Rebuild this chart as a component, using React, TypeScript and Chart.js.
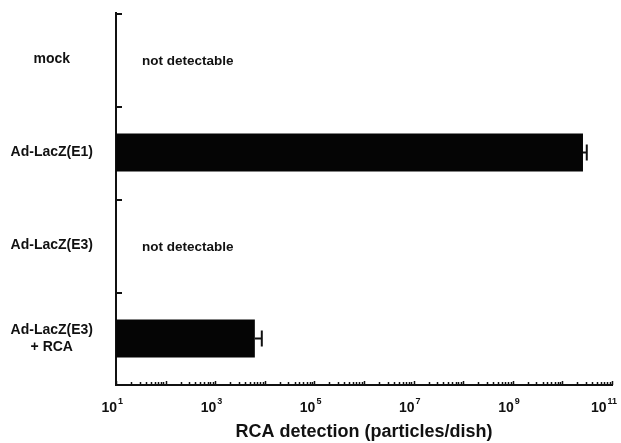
import React, { useEffect, useRef } from 'react';
import Chart from 'chart.js/auto';

const categories: (string | string[])[] = ['mock', 'Ad-LacZ(E1)', 'Ad-LacZ(E3)', ['Ad-LacZ(E3)', '+ RCA']];
const detection: (number | null)[] = [null, 2.6e10, null, 6.3e3];
const errorUpper: (number | null)[] = [null, 3.1e10, null, 8.7e3];
const xTickExponents: number[] = [1, 3, 5, 7, 9, 11];
const notDetectableText = 'not detectable';
const xTitle = 'RCA detection (particles/dish)';
const xMin = 1e1;
const xMax = 1e11;

const INK = '#111111';
const FONT = '"Liberation Sans", Arial, sans-serif';

const decorPlugin = {
  id: 'decor',
  afterDatasetsDraw(chart: any) {
    const ctx = chart.ctx as CanvasRenderingContext2D;
    const xs = chart.scales.x;
    const ys = chart.scales.y;
    const area = chart.chartArea;
    ctx.save();
    ctx.strokeStyle = INK;
    ctx.fillStyle = INK;

    // y-axis ticks at category boundaries (pointing inward)
    const step = ys.getPixelForValue(1) - ys.getPixelForValue(0);
    ctx.lineWidth = 2;
    for (let i = 0; i < categories.length; i++) {
      const py = Math.round(ys.getPixelForValue(i) - step / 2) + 1;
      ctx.beginPath();
      ctx.moveTo(area.left, py);
      ctx.lineTo(area.left + 6, py);
      ctx.stroke();
    }

    // x-axis minor ticks (pointing inward)
    ctx.lineWidth = 1.5;
    const e0 = Math.floor(Math.log10(xs.min));
    const e1 = Math.ceil(Math.log10(xs.max));
    for (let e = e0; e <= e1; e++) {
      for (let k = 1; k < 10; k++) {
        const v = k * Math.pow(10, e);
        if (v < xs.min || v > xs.max) continue;
        const px = Math.round(xs.getPixelForValue(v)) + 0.5;
        const len = k === 1 ? 4 : 3;
        ctx.beginPath();
        ctx.moveTo(px, area.bottom);
        ctx.lineTo(px, area.bottom - len);
        ctx.stroke();
      }
    }

    // error bars
    const meta = chart.getDatasetMeta(0);
    ctx.lineWidth = 2;
    meta.data.forEach((bar: any, i: number) => {
      const ev = errorUpper[i];
      if (ev == null || detection[i] == null) return;
      const ex = xs.getPixelForValue(ev);
      ctx.beginPath();
      ctx.moveTo(bar.x, bar.y);
      ctx.lineTo(ex, bar.y);
      ctx.moveTo(ex, bar.y - 8);
      ctx.lineTo(ex, bar.y + 8);
      ctx.stroke();
    });

    // "not detectable" labels
    ctx.font = `bold 13.5px ${FONT}`;
    ctx.textAlign = 'left';
    ctx.textBaseline = 'middle';
    detection.forEach((v, i) => {
      if (v != null) return;
      ctx.fillText(notDetectableText, area.left + 26, ys.getPixelForValue(i) + 2);
    });

    // x tick labels with superscript exponents
    const W = chart.width;
    xTickExponents.forEach((e) => {
      const px = xs.getPixelForValue(Math.pow(10, e));
      ctx.font = `bold 9px ${FONT}`;
      const supW = ctx.measureText(String(e)).width;
      let anchor = px;
      if (anchor + 2 + supW > W - 4) anchor = W - 4 - supW - 2;
      ctx.font = `bold 14px ${FONT}`;
      ctx.textAlign = 'right';
      ctx.textBaseline = 'alphabetic';
      ctx.fillText('10', anchor + 1, 412);
      ctx.font = `bold 9px ${FONT}`;
      ctx.textAlign = 'left';
      ctx.fillText(String(e), anchor + 2, 404);
    });

    ctx.restore();
  },
};

export default function App() {
  const ref = useRef<HTMLCanvasElement | null>(null);

  useEffect(() => {
    document.body.style.margin = '0';
    const canvas = ref.current;
    if (!canvas) return;
    const chart = new Chart(canvas, {
      type: 'bar',
      data: {
        labels: categories as any,
        datasets: [
          {
            data: detection as any,
            backgroundColor: '#050505',
            borderWidth: 0,
            barPercentage: 0.41,
            categoryPercentage: 1,
          },
        ],
      },
      options: {
        indexAxis: 'y',
        responsive: false,
        animation: false,
        devicePixelRatio: 1,
        layout: { padding: { top: 13, right: 9, left: 0, bottom: 0 } },
        plugins: {
          legend: { display: false },
          tooltip: { enabled: false },
        },
        scales: {
          x: {
            type: 'logarithmic',
            min: xMin,
            max: xMax,
            grid: { display: false },
            border: { display: true, color: INK, width: 2 },
            ticks: { display: false },
            title: {
              display: true,
              text: xTitle,
              color: INK,
              font: { family: FONT, size: 18, weight: 'bold' },
              padding: { top: 0, bottom: 0 },
            },
            afterFit: (s: any) => {
              s.height = 58;
              s.paddingLeft = 0;
              s.paddingRight = 0;
            },
          },
          y: {
            type: 'category',
            offset: true,
            grid: { display: false },
            border: { display: true, color: INK, width: 2 },
            ticks: {
              color: INK,
              font: { family: FONT, size: 14, weight: 'bold', lineHeight: 1.25 },
              crossAlign: 'center',
              padding: 15,
            },
            afterFit: (s: any) => {
              s.width = 116;
              s.paddingTop = 0;
              s.paddingBottom = 0;
            },
          },
        },
      },
      plugins: [decorPlugin],
    });
    return () => chart.destroy();
  }, []);

  return (
    <div style={{ width: 621, height: 443, background: '#fff' }}>
      <canvas ref={ref} width={621} height={443} style={{ display: 'block' }} />
    </div>
  );
}
